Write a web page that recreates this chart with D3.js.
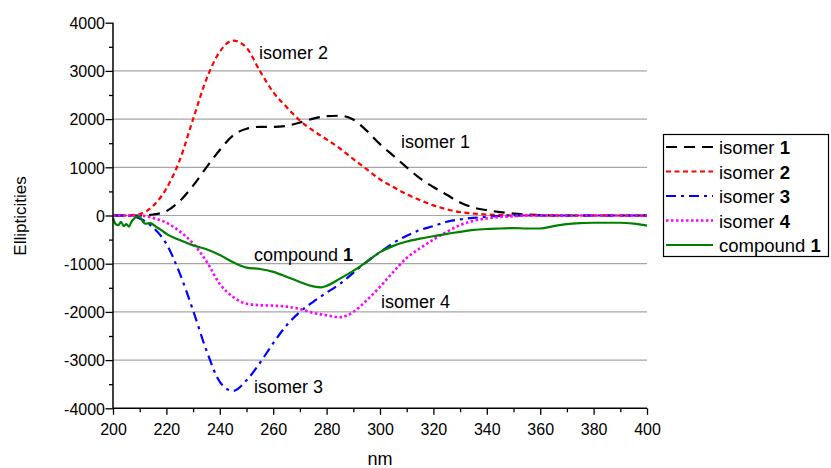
<!DOCTYPE html>
<html>
<head>
<meta charset="utf-8">
<script src="https://cdn.jsdelivr.net/npm/d3@7"></script>
<style>
  body { margin: 0; background: #fff; }
  text { font-family: "Liberation Sans", Arial, sans-serif; fill: #000; }
</style>
</head>
<body>
<script>
// CD spectra: wavelength (nm) vs ellipticity

var nmGrid = [200,205,210,215,220,225,230,235,240,245,250,255,260,265,270,275,280,285,290,295,
  300,305,310,315,320,325,330,335,340,345,350,355,360,365,370,375,380,385,390,395,400];

var isomer1 = [0,0,0,20,90,300,620,1000,1360,1660,1800,1840,1840,1860,1930,2010,2060,2070,1990,1760,
  1480,1240,1000,770,590,430,270,165,110,70,40,20,5,0,0,0,0,0,0,0,0];
var isomer2 = [0,0,30,200,560,1150,2000,2830,3400,3630,3480,3000,2560,2250,1970,1760,1580,1390,1170,960,
  750,590,440,320,210,130,70,40,20,10,0,0,0,0,0,0,0,0,0,0,0];
var isomer3 = [0,0,-60,-250,-590,-1200,-1970,-2800,-3450,-3640,-3420,-3060,-2650,-2280,-2000,-1790,-1600,-1420,-1190,-960,
  -760,-570,-420,-300,-220,-130,-80,-50,-25,-10,0,0,0,0,0,0,0,0,0,0,0];
var isomer4 = [0,0,0,-50,-150,-330,-580,-950,-1420,-1690,-1830,-1860,-1870,-1890,-1940,-2020,-2070,-2110,-2000,-1760,
  -1480,-1170,-880,-680,-500,-340,-200,-110,-60,-30,-15,0,0,0,0,0,0,0,0,0,0];

var compoundNm = [200,201,202,203,204,205,206,207,208,209,210,211,212,214,216,218,220,225,230,235,240,245,250,255,260,265,270,275,278,
  280,285,290,295,300,305,310,315,320,325,330,335,340,345,350,355,360,365,370,375,380,385,390,395,400];
var compound1 = [-50,-180,-200,-130,-220,-180,-230,-120,-60,-20,-30,-110,-170,-160,-230,-300,-380,-510,-620,-700,-820,-970,-1080,-1110,-1170,-1270,-1380,-1470,-1490,
  -1460,-1310,-1150,-960,-760,-630,-540,-480,-430,-380,-340,-300,-280,-270,-260,-270,-270,-220,-180,-160,-150,-150,-150,-170,-210];

var xTicks = [200,220,240,260,280,300,320,340,360,380,400];
var yTicks = [-4000,-3000,-2000,-1000,0,1000,2000,3000,4000];

var series = [
  {name: 'isomer ', num: '1', nm: nmGrid, v: isomer1, color: '#000000', dash: '11,7'},
  {name: 'isomer ', num: '2', nm: nmGrid, v: isomer2, color: '#ff0000', dash: '5,3.5'},
  {name: 'isomer ', num: '3', nm: nmGrid, v: isomer3, color: '#0000ff', dash: '10,5,3,5'},
  {name: 'isomer ', num: '4', nm: nmGrid, v: isomer4, color: '#ff00ff', dash: '2.5,2.5'},
  {name: 'compound ', num: '1', nm: compoundNm, v: compound1, color: '#008000', dash: null}
];

var width = 831, height = 468;
var plotLeft = 113, plotRight = 647, plotTop = 22.7, plotBottom = 408.3;

var svg = d3.select('body').append('svg')
  .attr('width', width)
  .attr('height', height);

var x = d3.scaleLinear().domain([200, 400]).range([plotLeft, plotRight]);
var y = d3.scaleLinear().domain([-4000, 4000]).range([plotBottom, plotTop]);

// gridlines
svg.append('g')
  .selectAll('line')
  .data(yTicks.filter(function(d) { return d > -4000 && d < 4000; }))
  .enter().append('line')
  .attr('x1', plotLeft).attr('x2', plotRight)
  .attr('y1', function(d) { return y(d); })
  .attr('y2', function(d) { return y(d); })
  .attr('stroke', '#a6a6a6')
  .attr('stroke-width', 1.2);

// curves
var line = d3.line()
  .x(function(d) { return x(d[0]); })
  .y(function(d) { return y(d[1]); })
  .curve(d3.curveMonotoneX);

series.forEach(function(s) {
  var pts = s.nm.map(function(n, i) { return [n, s.v[i]]; });
  svg.append('path')
    .attr('d', line(pts))
    .attr('fill', 'none')
    .attr('stroke', s.color)
    .attr('stroke-width', s.dash === '2.5,2.5' ? 2.6 : 2.2)
    .attr('stroke-dasharray', s.dash);
});

// axes
var xAxis = d3.axisBottom(x)
  .tickValues(d3.range(200, 401, 10))
  .tickSize(0)
  .tickFormat(function(d) { return xTicks.indexOf(d) >= 0 ? d : ''; });
var gx = svg.append('g').attr('transform', 'translate(0,' + plotBottom + ')').call(xAxis);
gx.select('.domain').remove();
gx.selectAll('.tick line')
  .attr('y2', function(d) { return xTicks.indexOf(d) >= 0 ? 6.5 : 4; })
  .attr('stroke', '#000').attr('stroke-width', 1.3);
gx.selectAll('.tick text')
  .attr('y', 27).attr('dy', 0)
  .attr('font-size', 16);

var yAxis = d3.axisLeft(y)
  .tickValues(d3.range(-4000, 4001, 500))
  .tickSize(0)
  .tickFormat(function(d) { return yTicks.indexOf(d) >= 0 ? d : ''; });
var gy = svg.append('g').attr('transform', 'translate(' + plotLeft + ',0)').call(yAxis);
gy.select('.domain').remove();
gy.selectAll('.tick line')
  .attr('x2', function(d) { return yTicks.indexOf(d) >= 0 ? -7.5 : -4; })
  .attr('stroke', '#000').attr('stroke-width', 1.3);
gy.selectAll('.tick text')
  .attr('x', -8).attr('dy', '0.36em')
  .attr('font-size', 16);

gx.attr('font-family', null);
gy.attr('font-family', null);

svg.append('line')
  .attr('x1', plotLeft).attr('x2', plotLeft).attr('y1', plotTop).attr('y2', plotBottom)
  .attr('stroke', '#000').attr('stroke-width', 1.5);
svg.append('line')
  .attr('x1', plotLeft).attr('x2', plotRight).attr('y1', plotBottom).attr('y2', plotBottom)
  .attr('stroke', '#000').attr('stroke-width', 1.5);

// axis titles
svg.append('text')
  .attr('x', 380).attr('y', 465)
  .attr('text-anchor', 'middle')
  .attr('font-size', 18)
  .text('nm');
svg.append('text')
  .attr('transform', 'translate(26,216) rotate(-90)')
  .attr('text-anchor', 'middle')
  .attr('font-size', 17)
  .text('Ellipticities');

// in-plot labels
var labels = [
  {t: 'isomer 2', b: null, x: 259, y: 59},
  {t: 'isomer 1', b: null, x: 401, y: 148},
  {t: 'compound ', b: '1', x: 254, y: 261},
  {t: 'isomer 4', b: null, x: 381, y: 308},
  {t: 'isomer 3', b: null, x: 254, y: 393}
];
labels.forEach(function(l) {
  var t = svg.append('text')
    .attr('x', l.x).attr('y', l.y)
    .attr('font-size', 18);
  t.append('tspan').text(l.t);
  if (l.b) t.append('tspan').attr('font-weight', 'bold').text(l.b);
});

// legend
var legend = svg.append('g');
legend.append('rect')
  .attr('x', 663.5).attr('y', 134.5)
  .attr('width', 165).attr('height', 122)
  .attr('fill', '#fff')
  .attr('stroke', '#000').attr('stroke-width', 1.2);

series.forEach(function(s, i) {
  var ly = 147 + i * 24.5;
  legend.append('line')
    .attr('x1', 666).attr('x2', 713)
    .attr('y1', ly).attr('y2', ly)
    .attr('stroke', s.color)
    .attr('stroke-width', s.dash === '2.5,2.5' ? 2.6 : 2.2)
    .attr('stroke-dasharray', s.dash);
  var t = legend.append('text')
    .attr('x', 719).attr('y', ly + 7)
    .attr('font-size', 18.5);
  t.append('tspan').text(s.name);
  t.append('tspan').attr('font-weight', 'bold').text(s.num);
});
</script>
</body>
</html>
